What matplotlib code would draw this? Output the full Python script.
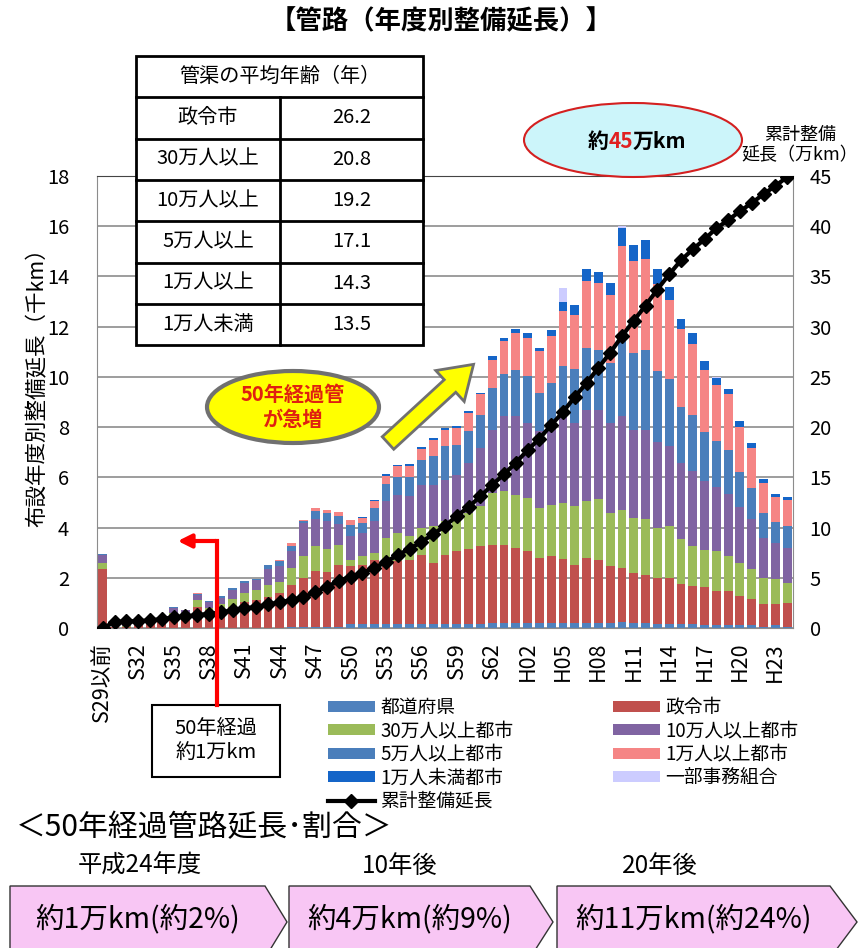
import numpy as np
import matplotlib.pyplot as plt
from matplotlib.patches import Ellipse, Rectangle, Polygon, FancyArrow
from matplotlib.lines import Line2D

plt.rcParams['font.family'] = ['Noto Sans CJK JP', 'DejaVu Sans']

# fiscal years (S29以前 .. H24)
years = ['S29以前', 'S30', 'S31', 'S32', 'S33', 'S34', 'S35', 'S36', 'S37', 'S38',
         'S39', 'S40', 'S41', 'S42', 'S43', 'S44', 'S45', 'S46', 'S47', 'S48',
         'S49', 'S50', 'S51', 'S52', 'S53', 'S54', 'S55', 'S56', 'S57', 'S58',
         'S59', 'S60', 'S61', 'S62', 'S63', 'H01', 'H02', 'H03', 'H04', 'H05',
         'H06', 'H07', 'H08', 'H09', 'H10', 'H11', 'H12', 'H13', 'H14', 'H15',
         'H16', 'H17', 'H18', 'H19', 'H20', 'H21', 'H22', 'H23', 'H24']

# yearly length by owner (千km)
pref = [0, 0, 0, 0, 0, 0, 0, 0, 0, 0,
        0, 0, 0, 0, 0, 0, 0.05, 0.05, 0.05, 0.05,
        0.05, 0.15, 0.15, 0.15, 0.15, 0.15, 0.15, 0.15, 0.15, 0.15,
        0.15, 0.15, 0.15, 0.2, 0.2, 0.2, 0.2, 0.2, 0.2, 0.2,
        0.2, 0.2, 0.2, 0.2, 0.25, 0.2, 0.2, 0.15, 0.15, 0.15,
        0.15, 0.1, 0.1, 0.1, 0.1, 0.1, 0.05, 0.1, 0.05]
seirei = [2.35, 0.03, 0.05, 0.1, 0.15, 0.25, 0.5, 0.5, 0.85, 0.7,
          0.75, 0.85, 1.05, 1.1, 1.25, 1.4, 1.68, 1.94, 2.21, 2.17,
          2.47, 2.31, 2.37, 2.57, 2.51, 2.51, 2.57, 2.77, 2.44, 2.77,
          2.9, 3.0, 3.1, 3.12, 3.12, 2.99, 2.85, 2.59, 2.66, 2.55,
          2.32, 2.59, 2.52, 2.26, 2.14, 1.99, 1.92, 1.84, 1.84, 1.62,
          1.51, 1.53, 1.36, 1.36, 1.19, 1.06, 0.92, 0.87, 0.95]
city30 = [0.25, 0, 0.02, 0.02, 0.03, 0.05, 0.1, 0.06, 0.25, 0.1,
          0.2, 0.3, 0.35, 0.4, 0.45, 0.45, 0.66, 0.87, 0.99, 0.93,
          0.8, 0.26, 0.34, 0.27, 0.93, 1.12, 0.93, 1.06, 1.46, 1.33,
          1.27, 1.43, 1.6, 2.06, 2.12, 2.12, 2.13, 1.99, 2.05, 2.23,
          2.33, 2.26, 2.42, 2.12, 2.32, 2.19, 2.22, 1.99, 2.06, 1.78,
          1.62, 1.46, 1.59, 1.42, 1.3, 1.19, 1.02, 0.98, 0.79]
city10 = [0.3, 0.02, 0.03, 0.03, 0.05, 0.08, 0.2, 0.15, 0.2, 0.25,
          0.25, 0.35, 0.4, 0.4, 0.65, 0.6, 0.66, 1.32, 1.09, 1.1,
          0.84, 0.93, 0.92, 1.26, 1.46, 1.53, 1.6, 1.73, 1.66, 1.66,
          1.79, 1.99, 2.32, 2.52, 2.99, 3.12, 2.99, 3.06, 3.12, 3.45,
          3.32, 3.65, 3.56, 3.59, 3.72, 3.52, 3.56, 3.42, 3.19, 3.02,
          2.96, 2.75, 2.57, 2.47, 2.23, 1.99, 1.6, 1.44, 1.4]
city5 = [0.05, 0, 0, 0, 0, 0.02, 0.04, 0.02, 0.05, 0.01,
         0.06, 0.1, 0.06, 0.07, 0.15, 0.2, 0.2, 0.07, 0.31, 0.33,
         0.29, 0.47, 0.4, 0.53, 0.7, 0.71, 0.77, 1.0, 1.13, 1.33,
         1.19, 1.27, 1.33, 1.66, 1.69, 1.86, 1.86, 1.52, 1.73, 1.99,
         2.15, 2.46, 2.39, 2.39, 2.99, 3.06, 3.19, 2.83, 2.68, 2.23,
         2.26, 1.96, 1.82, 1.73, 1.38, 1.24, 0.99, 0.83, 0.89]
city1 = [0, 0, 0, 0, 0, 0, 0, 0, 0.05, 0,
         0, 0, 0, 0, 0, 0.05, 0.14, 0.04, 0.13, 0.13,
         0.16, 0.17, 0.2, 0.27, 0.32, 0.42, 0.45, 0.42, 0.66, 0.64,
         0.67, 0.73, 0.8, 1.13, 1.3, 1.46, 1.52, 1.66, 1.86, 2.2,
         2.16, 2.65, 2.66, 2.72, 3.79, 3.64, 3.61, 3.45, 3.13, 3.09,
         2.79, 2.47, 2.25, 2.22, 1.8, 1.59, 1.2, 1.0, 1.01]
town = [0, 0, 0, 0, 0, 0, 0, 0, 0, 0,
        0, 0, 0, 0, 0, 0, 0, 0, 0, 0,
        0, 0.03, 0.03, 0.04, 0.05, 0.05, 0.05, 0.07, 0.07, 0.09,
        0.06, 0.06, 0.06, 0.13, 0.11, 0.14, 0.18, 0.14, 0.24, 0.35,
        0.38, 0.47, 0.42, 0.47, 0.73, 0.67, 0.74, 0.62, 0.54, 0.42,
        0.44, 0.35, 0.27, 0.22, 0.23, 0.2, 0.16, 0.13, 0.13]
kumiai = [0, 0, 0, 0, 0, 0, 0, 0, 0, 0,
          0, 0, 0, 0, 0, 0, 0, 0, 0, 0,
          0, 0, 0, 0, 0, 0, 0, 0, 0, 0,
          0, 0, 0, 0, 0, 0.03, 0, 0, 0, 0.58,
          0, 0.03, 0, 0, 0.05, 0, 0.03, 0, 0, 0,
          0, 0, 0.03, 0, 0, 0, 0, 0, 0]

# cumulative length (万km)
cumulative = [0.0, 0.6, 0.65, 0.7, 0.75, 0.9, 1.05, 1.15, 1.3, 1.4,
              1.55, 1.75, 1.95, 2.1, 2.35, 2.55, 2.8, 3.05, 3.55, 4.1,
              4.7, 5.1, 5.5, 5.95, 6.6, 7.25, 7.9, 8.55, 9.35, 10.15,
              11.15, 12.05, 13.1, 14.25, 15.3, 16.45, 17.7, 18.85, 20.2, 21.5,
              23.0, 24.4, 25.9, 27.4, 29.05, 30.6, 32.1, 33.7, 35.2, 36.6,
              37.7, 38.7, 39.8, 40.6, 41.5, 42.3, 43.2, 44.0, 44.9]

# average pipe age table
table_title = '管渠の平均年齢（年）'
table_rows = ['政令市', '30万人以上', '10万人以上', '5万人以上', '1万人以上', '1万人未満']
table_ages = [26.2, 20.8, 19.2, 17.1, 14.3, 13.5]

# bottom summary
summary_heads = ['平成24年度', '10年後', '20年後']
summary_texts = ['約1万km(約2%)', '約4万km(約9%)', '約11万km(約24%)']

series = [
    (pref, '#4F81BD', '都道府県'),
    (seirei, '#C0504D', '政令市'),
    (city30, '#9BBB59', '30万人以上都市'),
    (city10, '#8064A2', '10万人以上都市'),
    (city5, '#4A7EBB', '5万人以上都市'),
    (city1, '#F58585', '1万人以上都市'),
    (town, '#1565C8', '1万人未満都市'),
    (kumiai, '#CCCCFF', '一部事務組合'),
]

fig = plt.figure(figsize=(8.6, 9.48), dpi=100)
ax = fig.add_axes([97 / 860, 1 - 628 / 948, 696 / 860, 452 / 948])

x = np.arange(len(years))
bottom = np.zeros(len(years))
bars = {}
for vals, color, label in series:
    bars[label] = ax.bar(x, vals, 0.75, bottom=bottom, color=color, label=label, zorder=2)
    bottom += np.array(vals)

ax.set_xlim(-0.5, len(years) - 0.5)
ax.set_ylim(0, 18)
ax.set_yticks(range(0, 19, 2))
ax.set_xticks(x[::3])
ax.set_xticklabels(years[::3], rotation=90, fontsize=15.5)
ax.tick_params(axis='x', length=0, pad=10)
ax.tick_params(axis='y', length=0, pad=20, labelsize=14.5)
ax.yaxis.grid(True, color='#8c8c8c', lw=1.2)
ax.set_axisbelow(True)
for s in ['left', 'bottom', 'right']:
    ax.spines[s].set_color('#8c8c8c')
ax.spines['top'].set_color('#444444')

ax2 = ax.twinx()
line, = ax2.plot(x, cumulative, color='black', lw=3, marker='D', ms=7.5, zorder=3)
ax2.set_ylim(0, 45)
ax2.set_yticks(range(0, 46, 5))
ax2.tick_params(axis='y', length=0, pad=12, labelsize=14.5)
for s in ax2.spines.values():
    s.set_visible(False)

fig.text(38 / 860, 1 - 382 / 948, '布設年度別整備延長（千km）', rotation=90,
         fontsize=15.5, ha='center', va='center')
fig.text(800 / 860, 1 - 145 / 948, '累計整備\n延長（万km）', fontsize=13,
         ha='center', va='center', linespacing=1.15)
fig.text(441 / 860, 1 - 22 / 948, '【管路（年度別整備延長）】', fontsize=19,
         fontweight='bold', ha='center', va='center')

# legend
order = ['都道府県', '30万人以上都市', '5万人以上都市', '1万人未満都市', None,
         '政令市', '10万人以上都市', '1万人以上都市', '一部事務組合']
handles, labels = [], []
for name in order:
    if name is None:
        handles.append(Line2D([], [], color='black', lw=3, marker='D', ms=7.5))
        labels.append('累計整備延長')
    else:
        handles.append(bars[name])
        labels.append(name)
ax.legend(handles, labels, ncol=2, loc='upper left',
          bbox_to_anchor=(328 / 860, 1 - 697 / 948), bbox_transform=fig.transFigure,
          frameon=False, fontsize=13.5, handlelength=2.5, handleheight=0.5,
          handletextpad=0.3, columnspacing=5.3, labelspacing=0.13,
          borderpad=0, borderaxespad=0)

# overlay in pixel coordinates for annotations
ov = fig.add_axes([0, 0, 1, 1], zorder=5)
ov.set_xlim(0, 860)
ov.set_ylim(948, 0)
ov.axis('off')
ov.patch.set_alpha(0)

# table
tx0, tx1, tmid, ty0, rh = 136, 423, 280, 56, 41.3
ov.add_patch(Rectangle((tx0, ty0), tx1 - tx0, rh * 7, facecolor='white',
                       edgecolor='black', lw=2))
for k in range(1, 7):
    ov.plot([tx0, tx1], [ty0 + rh * k, ty0 + rh * k], color='black', lw=2)
ov.plot([tmid, tmid], [ty0 + rh, ty0 + rh * 7], color='black', lw=2)
ov.text((tx0 + tx1) / 2, ty0 + rh / 2, table_title, fontsize=14.5, ha='center', va='center')
for k, (name, age) in enumerate(zip(table_rows, table_ages)):
    yc = ty0 + rh * (k + 1.5)
    ov.text((tx0 + tmid) / 2, yc, name, fontsize=14.5, ha='center', va='center')
    ov.text((tmid + tx1) / 2, yc, f'{age:.1f}', fontsize=14.5, ha='center', va='center')

# 45万km bubble
ov.add_patch(Ellipse((633, 140), 218, 74, facecolor='#CCF5FA', edgecolor='#D42020', lw=1.5))
ov.text(609, 141, '約', fontsize=15, fontweight='bold', ha='right', va='center')
ov.text(621, 141, '45', fontsize=15, fontweight='bold', color='#E02020', ha='center', va='center')
ov.text(633, 141, '万km', fontsize=15, fontweight='bold', ha='left', va='center')

# 50年経過管が急増 bubble and arrow
ov.add_patch(Ellipse((293, 407), 172, 72, facecolor='#FFFF00', edgecolor='#707070', lw=3))
ov.text(293, 407, '50年経過管\nが急増', fontsize=14.5, fontweight='bold', color='#E02010',
        ha='center', va='center', linespacing=1.25)
ov.add_patch(FancyArrow(388, 443, 62, -57, width=17, head_width=42, head_length=32,
                        length_includes_head=False, facecolor='#FFFF00',
                        edgecolor='#707070', lw=2))

# red arrow and note box
ov.plot([217, 217], [705, 541], color='#FF0000', lw=3)
ov.annotate('', xy=(175, 541), xytext=(218.5, 541),
            arrowprops=dict(arrowstyle='-|>,head_length=0.8,head_width=0.4',
                            color='#FF0000', lw=3))
ov.add_patch(Rectangle((152, 705), 128, 72, facecolor='white', edgecolor='black', lw=1.5))
ov.text(216, 741, '50年経過\n約1万km', fontsize=14.5, ha='center', va='center', linespacing=1.3)

# bottom summary
ov.text(16, 828, '＜50年経過管路延長･割合＞', fontsize=21.5, ha='left', va='center')
head_x = [140, 400, 660]
shapes = [(10, 265, 287), (289, 530, 553), (557, 830, 857)]
for head, text, hx, (l, r, tip) in zip(summary_heads, summary_texts, head_x, shapes):
    ov.text(hx, 866, head, fontsize=17.5, ha='center', va='center')
    ov.add_patch(Polygon([(l, 886), (r, 886), (tip, 922), (r, 958), (l, 958)],
                         closed=True, facecolor='#F8C6F4', edgecolor='#333333', lw=1))
    ov.text((l + r) / 2, 919, text, fontsize=20.5, ha='center', va='center')

fig.savefig('out.png', dpi=100)
